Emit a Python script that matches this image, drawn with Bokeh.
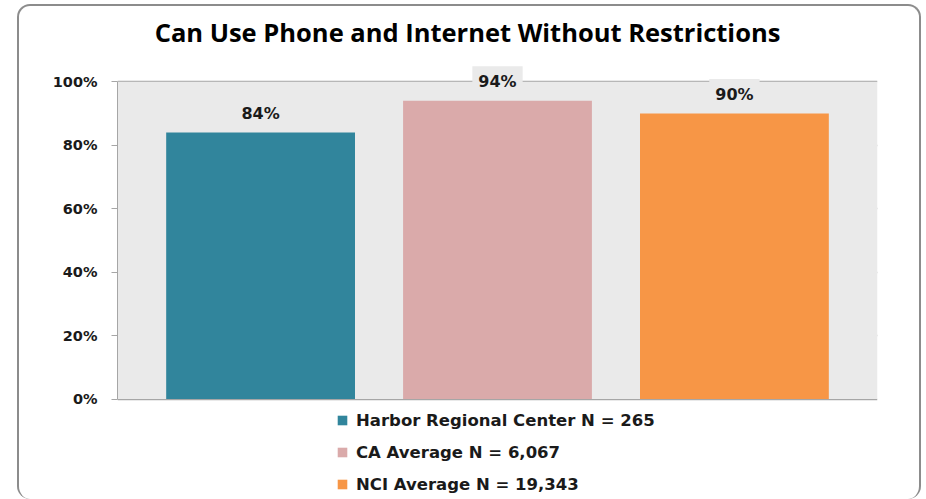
from bokeh.plotting import figure
from bokeh.models import (ColumnDataSource, Range1d, Legend, LegendItem, BoxAnnotation,
                          Label, PrintfTickFormatter, FixedTicker)
from bokeh.core.properties import value
from bokeh.embed import file_html
from bokeh.resources import INLINE

title_text = "Can Use Phone and Internet Without Restrictions"
categories = ["Harbor Regional Center N = 265", "CA Average N = 6,067", "NCI Average N = 19,343"]
values = [84, 94, 90]
value_labels = ["84%", "94%", "90%"]
colors = ["#31859C", "#DAAAAA", "#F79646"]
y_ticks = [0, 20, 40, 60, 80, 100]

x = list(range(len(categories)))
src = ColumnDataSource(dict(x=x, top=values, color=colors, label=value_labels, name=categories))

p = figure(width=900, height=493, output_backend="svg", toolbar_location=None,
           x_range=Range1d(-0.604, 2.604), y_range=Range1d(-32.28, 123.73),
           min_border_left=98, min_border_right=46, min_border_top=0, min_border_bottom=0)
p.styles = {"box-sizing": "content-box", "margin-left": "17px", "margin-top": "4px",
            "border": "2px solid #8C8C8C", "border-bottom": "none",
            "border-radius": "13px"}
p.background_fill_color = None
p.border_fill_color = None
p.outline_line_color = None

# title
p.add_layout(Label(x=350, y=470, x_units="screen", y_units="screen", text=title_text,
                   text_align="center", text_baseline="middle",
                   text_font="Open Sans", text_font_style="bold",
                   text_font_size="25.5px", text_color="#000000"))

# plot-area background (0% .. 100%)
p.add_layout(BoxAnnotation(bottom=y_ticks[0], top=y_ticks[-1], fill_color="#EAEAEA",
                           fill_alpha=1, line_color=None, level="underlay"))

r = p.vbar(x="x", top="top", bottom=0, width=0.797, fill_color="color",
           line_color=None, source=src)

# axes
p.yaxis.ticker = FixedTicker(ticks=y_ticks)
p.yaxis.bounds = (y_ticks[0], y_ticks[-1])
p.yaxis.formatter = PrintfTickFormatter(format="%d%%")
p.yaxis.axis_line_color = "#A6A6A6"
p.yaxis.major_tick_line_color = "#A6A6A6"
p.yaxis.major_tick_out = 6
p.yaxis.major_tick_in = 0
p.yaxis.minor_tick_line_color = None
p.yaxis.major_label_standoff = 14
p.yaxis.major_label_text_font = "DejaVu Sans"
p.yaxis.major_label_text_font_style = "bold"
p.yaxis.major_label_text_font_size = "14.5px"
p.yaxis.major_label_text_color = "#1a1a1a"

p.xaxis.visible = False

p.xgrid.grid_line_color = None
p.ygrid.ticker = FixedTicker(ticks=y_ticks)
p.ygrid.grid_line_color = "#A6A6A6"
p.ygrid.grid_line_width = 1.5

# value labels
p.text(x="x", y="top", text="label", source=src, y_offset=-19,
       text_align="center", text_baseline="middle",
       text_font=value("DejaVu Sans"), text_font_style="bold",
       text_font_size="16px", text_color="#1a1a1a",
       background_fill_color="#EAEAEA", padding=6)

# legend
items = [LegendItem(label=categories[i], renderers=[r], index=i) for i in x]
legend = Legend(items=items, location=(219, 7), orientation="vertical",
                glyph_width=12, glyph_height=12, label_standoff=8, label_height=20,
                spacing=12, padding=0, margin=0, border_line_color=None,
                background_fill_alpha=0,
                label_text_font="DejaVu Sans", label_text_font_style="bold",
                label_text_font_size="16.5px", label_text_color="#1a1a1a")
p.add_layout(legend, "center")

open("out.html", "w").write(file_html(p, INLINE))
